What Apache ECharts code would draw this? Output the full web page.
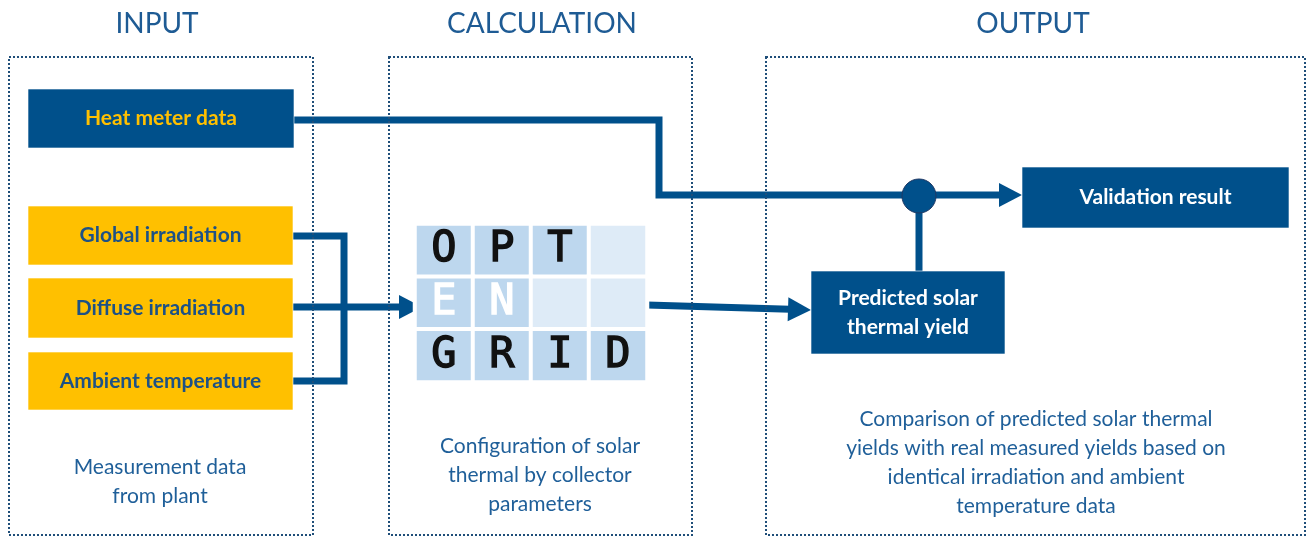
<!DOCTYPE html>
<html>
<head>
<meta charset="utf-8">
<title>OPTENGRID validation scheme</title>
<script src="https://cdn.jsdelivr.net/npm/echarts@6/dist/echarts.min.js"></script>
<style>
  html, body { margin: 0; padding: 0; background: #fff; }
  #main { width: 1307px; height: 537px; }
</style>
</head>
<body>
<div id="main"></div>
<script>
// ---- content ----
var stageTitles = ['INPUT', 'CALCULATION', 'OUTPUT'];
var stageNotes = [
  'Measurement data\nfrom plant',
  'Configuration of solar\nthermal by collector\nparameters',
  'Comparison of predicted solar thermal\nyields with real measured yields based on\nidentical irradiation and ambient\ntemperature data'
];
var inputNames = ['Heat meter data', 'Global irradiation', 'Diffuse irradiation', 'Ambient temperature'];
var outputNames = ['Predicted solar\nthermal yield', 'Validation result'];
var logoLetters = [
  ['O', 'P', 'T', ''],
  ['E', 'N', '', ''],
  ['G', 'R', 'I', 'D']
];
var logoShade = [
  [1, 1, 1, 0],
  [1, 1, 0, 0],
  [1, 1, 1, 1]
];
var flows = [
  ['Heat meter data', 'Validation result'],
  ['Global irradiation', 'OPTENGRID'],
  ['Diffuse irradiation', 'OPTENGRID'],
  ['Ambient temperature', 'OPTENGRID'],
  ['OPTENGRID', 'Predicted solar thermal yield'],
  ['Predicted solar thermal yield', 'Validation result']
];

// ---- layout (pixels on the hidden 1307 x 537 axes) ----
var W = 1307, H = 537;
var BLUE = '#00508b', GOLD = '#ffc000', INK = '#1d5186', NOTE = '#1f5f99', DOT = '#1f4e79';
var FONT = 'Lato';

var stageLayout = [
  { box: [9, 57, 313, 535], titleX: 157, noteX: 160, noteY: 482 },
  { box: [389, 57, 692, 535], titleX: 542, noteX: 540, noteY: 475 },
  { box: [766, 57, 1305, 535], titleX: 1033, noteX: 1036, noteY: 463 }
];
var TITLE_Y = 24;
var inputLayout = [[28, 89, 294, 148], [28, 206, 293, 265], [28, 278, 293, 338], [28, 352, 293, 410]];
var outputLayout = [[811, 271, 1005, 354], [1022, 167, 1289, 228]];
var routes = [
  { pts: [[294, 120], [659, 120], [659, 195], [1022, 195]], arrow: true },
  { pts: [[293, 236], [344, 236], [344, 307]] },
  { pts: [[293, 307], [422, 307]], arrow: true },
  { pts: [[293, 381], [344, 381], [344, 307]] },
  { pts: [[647, 305], [811, 310]], arrow: true },
  { pts: [[919, 271], [919, 196]], dot: [919, 196, 17] }
];
var HEAD_LEN = 23, HEAD_W = 12, LINE_W = 7;

function rectOf(api, r) {
  var a = api.coord([r[0], r[1]]);
  var b = api.coord([r[2], r[3]]);
  return { x: a[0], y: a[1], width: b[0] - a[0], height: b[1] - a[1] };
}
function centerOf(r) { return [(r[0] + r[2]) / 2, (r[1] + r[3]) / 2]; }

function renderStage(params, api) {
  var L = stageLayout[params.dataIndex];
  var t = api.coord([L.titleX, TITLE_Y]);
  var n = api.coord([L.noteX, L.noteY]);
  return {
    type: 'group',
    children: [
      { type: 'rect', shape: rectOf(api, L.box), z2: 5,
        style: { fill: null, stroke: DOT, lineWidth: 2, lineDash: [2, 2] } },
      { type: 'text', x: t[0], y: t[1],
        style: { text: stageTitles[params.dataIndex], fill: '#1e5b94', font: '28px ' + FONT,
                 align: 'center', verticalAlign: 'middle' } },
      { type: 'text', x: n[0], y: n[1],
        style: { text: stageNotes[params.dataIndex], fill: NOTE, font: '21px ' + FONT,
                 lineHeight: 29, align: 'center', verticalAlign: 'middle' } }
    ]
  };
}

function boxRenderer(layout, names, fills, inks) {
  return function (params, api) {
    var i = params.dataIndex;
    var r = layout[i];
    var c = api.coord(centerOf(r));
    return {
      type: 'group',
      children: [
        { type: 'rect', shape: rectOf(api, r), style: { fill: fills[i], stroke: 'rgba(255,255,255,0.6)', lineWidth: 1 } },
        { type: 'text', x: c[0], y: c[1],
          style: { text: names[i], fill: inks[i], font: 'bold 21px ' + FONT, lineHeight: 29,
                   align: 'center', verticalAlign: 'middle' } }
      ]
    };
  };
}

function renderFlow(params, api) {
  var r = routes[params.dataIndex];
  var pts = r.pts.map(function (p) { return api.coord(p); });
  var children = [];
  var linePts = pts.slice();
  if (r.arrow) {
    var tip = pts[pts.length - 1], prev = pts[pts.length - 2];
    var dx = tip[0] - prev[0], dy = tip[1] - prev[1];
    var len = Math.sqrt(dx * dx + dy * dy);
    var ux = dx / len, uy = dy / len;
    var base = [tip[0] - ux * HEAD_LEN, tip[1] - uy * HEAD_LEN];
    linePts[linePts.length - 1] = [base[0] + ux * 2, base[1] + uy * 2];
    children.push({ type: 'polygon', shape: { points: [tip,
      [base[0] - uy * HEAD_W, base[1] + ux * HEAD_W],
      [base[0] + uy * HEAD_W, base[1] - ux * HEAD_W]] }, style: { fill: BLUE } });
  }
  children.unshift({ type: 'polyline', shape: { points: linePts },
    style: { stroke: BLUE, lineWidth: LINE_W, lineJoin: 'miter', fill: null } });
  if (r.dot) {
    var d = api.coord([r.dot[0], r.dot[1]]);
    children.push({ type: 'circle', shape: { cx: d[0], cy: d[1], r: r.dot[2] },
      style: { fill: BLUE, stroke: '#1f3864', lineWidth: 1 } });
  }
  return { type: 'group', children: children };
}

// logo cells as a heatmap on its own small grid
var logoData = [];
logoLetters.forEach(function (row, ri) {
  row.forEach(function (ch, ci) {
    var ink = ri === 1 ? '#ffffff' : '#111111';
    logoData.push({ value: [ci, ri, logoShade[ri][ci]], name: ch,
      label: { color: ink, textBorderColor: ink, textBorderWidth: 1.4 } });
  });
});

var myChart = echarts.init(document.getElementById('main'));

var option = {
  animation: false,
  backgroundColor: '#ffffff',
  grid: [
    { left: 0, top: 0, width: W, height: H },
    { left: 415, top: 224, width: 232, height: 158 }
  ],
  xAxis: [
    { type: 'value', gridIndex: 0, min: 0, max: W, show: false },
    { type: 'category', gridIndex: 1, data: ['1', '2', '3', '4'], show: false }
  ],
  yAxis: [
    { type: 'value', gridIndex: 0, min: 0, max: H, inverse: true, show: false },
    { type: 'category', gridIndex: 1, data: ['1', '2', '3'], inverse: true, show: false }
  ],
  visualMap: {
    type: 'piecewise', show: false, seriesIndex: 4, dimension: 2,
    pieces: [{ value: 0, color: '#deebf7' }, { value: 1, color: '#bdd7ee' }]
  },
  series: [
    {
      name: 'flows', type: 'custom', xAxisIndex: 0, yAxisIndex: 0, z: 2,
      renderItem: renderFlow,
      data: flows.map(function (f, i) {
        var p = routes[i].pts[routes[i].pts.length - 1];
        return { name: f[0] + ' → ' + f[1], value: p };
      })
    },
    {
      name: 'stages', type: 'custom', xAxisIndex: 0, yAxisIndex: 0, z: 4,
      renderItem: renderStage,
      data: stageTitles.map(function (t, i) {
        return { name: t, value: [stageLayout[i].titleX, TITLE_Y] };
      })
    },
    {
      name: 'inputs', type: 'custom', xAxisIndex: 0, yAxisIndex: 0, z: 3,
      renderItem: boxRenderer(inputLayout, inputNames,
        [BLUE, GOLD, GOLD, GOLD], [GOLD, INK, INK, INK]),
      data: inputNames.map(function (n, i) { return { name: n, value: centerOf(inputLayout[i]) }; })
    },
    {
      name: 'outputs', type: 'custom', xAxisIndex: 0, yAxisIndex: 0, z: 3,
      renderItem: boxRenderer(outputLayout, outputNames, [BLUE, BLUE], ['#ffffff', '#ffffff']),
      data: outputNames.map(function (n, i) { return { name: n, value: centerOf(outputLayout[i]) }; })
    },
    {
      name: 'OPTENGRID', type: 'heatmap', xAxisIndex: 1, yAxisIndex: 1, z: 3,
      itemStyle: { borderColor: '#ffffff', borderWidth: 4 },
      label: {
        show: true, fontFamily: 'DejaVu Sans Mono', fontWeight: 'normal', fontSize: 42,
        formatter: function (p) { return p.name; }
      },
      emphasis: { disabled: true },
      data: logoData
    }
  ]
};

myChart.setOption(option);
</script>
</body>
</html>
